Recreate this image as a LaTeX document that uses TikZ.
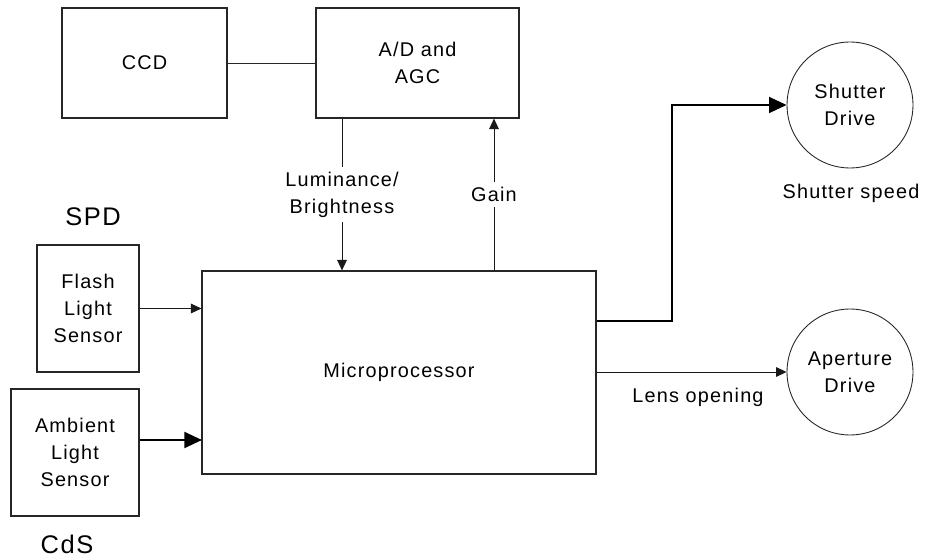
\documentclass[tikz,border=0pt]{standalone}
\usepackage{fontspec}
\setmainfont{Liberation Sans}[LetterSpace=6]
\usetikzlibrary{
    arrows.meta,
    positioning
}

\begin{document}
\begin{tikzpicture}[
    x=0.02cm,
    y=-0.02cm,
    every node/.style={
        font=\fontsize{11.3pt}{15.3pt}\selectfont
    },
    block/.style={
        rectangle,
        align=center,
        draw=black!85,
        line width=0.65pt,
        inner sep=0pt
    },
    drive/.style={
        circle,
        align=center,
        draw=black!85,
        line width=0.5pt,
        minimum size=2.52cm,
        inner sep=0pt
    },
    signal/.style={
        align=center,
        fill=white,
        inner sep=3pt
    },
    sensortag/.style={
        font=\fontsize{14.5pt}{17pt}\selectfont
    },
    link/.style={
        line width=0.55pt,
        draw=black!85
    },
    flowarrow/.style={
        -{Triangle[length=6pt,width=5.5pt]},
        line width=0.55pt,
        draw=black!90
    },
    heavyarrow/.style={
        -{Triangle[length=10pt,width=9pt]},
        line width=1.4pt,
        draw=black
    }
]

\useasboundingbox (0,0) rectangle (927,557);

% ==========================================================
% Image path
% ==========================================================
\node[block, minimum width=3.30cm, minimum height=2.20cm]
    (ccd) at (144.5,63) {CCD};

\node[block, minimum width=4.06cm, minimum height=2.20cm]
    (adc) at (417.5,63) {A/D and\\AGC};

% ==========================================================
% Sensors
% ==========================================================
\node[sensortag] (spd) at (93,217) {SPD};

\node[block, minimum width=2.04cm, minimum height=2.54cm]
    (flash) at (88,308.5) {Flash\\Light\\Sensor};

\node[block, minimum width=2.56cm, minimum height=2.54cm]
    (ambient) at (75,452.5) {Ambient\\Light\\Sensor};

\node[sensortag] (cds) at (67,544) {CdS};

% ==========================================================
% Controller and drives
% ==========================================================
\node[block, minimum width=7.88cm, minimum height=4.06cm]
    (micro) at (399,372.5) {Microprocessor};

\node[drive] (shutter) at (850,105) {Shutter\\Drive};
\node (speed) at (851,193) {Shutter speed};

\node[drive] (aperture) at (850,372) {Aperture\\Drive};
\node (lens) at (698,397) {Lens opening};

% ==========================================================
% Connectors
% ==========================================================
\coordinate (lumx) at (342,0);
\coordinate (gainx) at (494,0);
\coordinate (ambin) at (202,440);
\coordinate (bend) at (672,321);

\draw[link] (ccd.east) -- (adc.west);

\draw[flowarrow]
    (adc.south -| lumx)
    -- node[signal] (lum) {Luminance/\\Brightness}
    (micro.north -| lumx);

\draw[flowarrow]
    (micro.north -| gainx)
    -- node[signal] (gain) {Gain}
    (adc.south -| gainx);

\draw[flowarrow] (flash.east) -- (flash.east -| micro.west);

\draw[heavyarrow] (ambient.east |- ambin) -- (ambin);

\draw[heavyarrow]
    (micro.east |- bend)
    -- (bend)
    |- (shutter.west);

\draw[flowarrow] (micro.east |- aperture) -- (aperture.west);

\end{tikzpicture}
\end{document}
